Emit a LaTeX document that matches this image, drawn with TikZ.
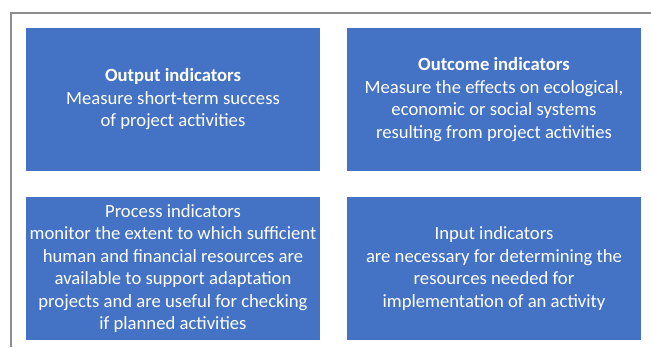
\documentclass[tikz,border=0pt]{standalone}
\usepackage{fontspec}
\setmainfont{Carlito}
\usepackage{tikz}
\definecolor{boxblue}{HTML}{4472C4}
\definecolor{framegray}{HTML}{8C8C8C}
\tikzset{indicator/.style={fill=boxblue, draw=none, text=white, align=center,
  minimum width=220.5pt, minimum height=107.25pt, inner sep=0pt,
  font=\fontsize{14}{16.9}\selectfont}}

\begin{document}
\begin{tikzpicture}[x=0.75pt, y=-0.75pt]
\useasboundingbox (0,0) rectangle (651,347);
\draw[framegray, line width=1.2pt] (11,347) -- (11,13) -- (651,13);

\node[indicator] (output) at (173,99.5) {\textbf{Output indicators}\\Measure short-term success\\of project activities};
\node[indicator] (outcome) at (494,99.5) {\textbf{Outcome indicators}\\Measure the effects on ecological,\\economic or social systems\\resulting from project activities};
\node[indicator] (process) at (173,268.5) {Process indicators\\monitor the extent to which sufficient\\human and financial resources are\\available to support adaptation\\projects and are useful for checking\\if planned activities};
\node[indicator] (input) at (494,268.5) {Input indicators\\are necessary for determining the\\resources needed for\\implementation of an activity};
\end{tikzpicture}
\end{document}
